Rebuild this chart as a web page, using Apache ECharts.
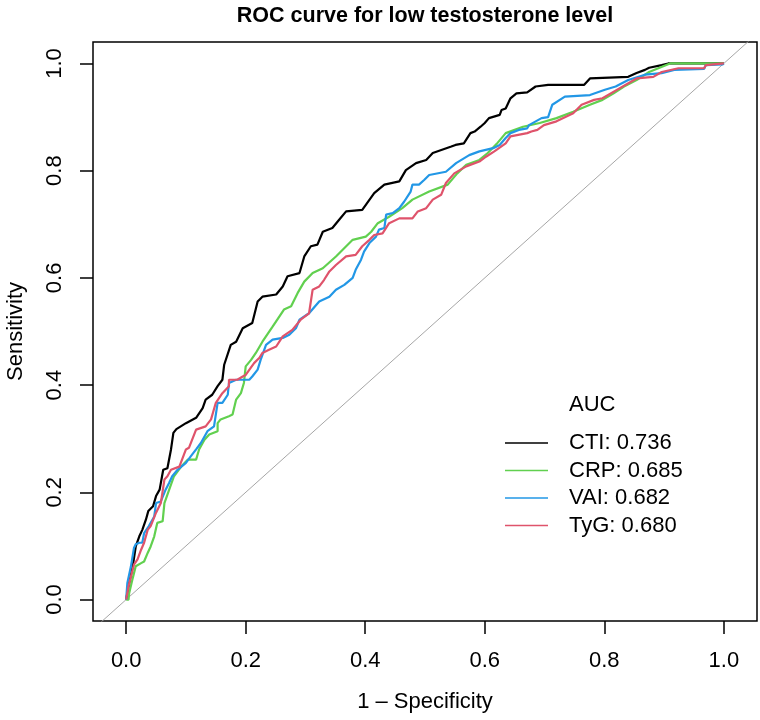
<!DOCTYPE html>
<html><head><meta charset="utf-8">
<script src="https://cdn.jsdelivr.net/npm/echarts@6/dist/echarts.min.js"></script>
<style>html,body{margin:0;padding:0;background:#fff}#c{width:760px;height:720px}</style>
</head><body><div id="c"></div>
<script>
const chartTitle = 'ROC curve for low testosterone level';
const xTitle = '1 \u2013 Specificity';
const yTitle = 'Sensitivity';
const seriesNames = ['CTI', 'CRP', 'VAI', 'TyG'];
const aucValues = ['0.736', '0.685', '0.682', '0.680'];
const seriesColors = ['#000000', '#61D04F', '#2297E6', '#DF536B'];
const tickValues = [0, 0.2, 0.4, 0.6, 0.8, 1.0];
const diagonal = [[-0.2, -0.2], [1.2, 1.2]];

const cti = [[0,0],[0.004,0.025],[0.011,0.062],[0.016,0.099],[0.022,0.118],[0.027,0.130],[0.033,0.149],[0.037,0.165],[0.045,0.174],[0.050,0.193],[0.056,0.205],[0.062,0.242],[0.069,0.245],[0.075,0.280],[0.079,0.311],[0.084,0.318],[0.100,0.329],[0.117,0.339],[0.128,0.357],[0.133,0.373],[0.144,0.382],[0.153,0.398],[0.161,0.410],[0.164,0.438],[0.175,0.475],[0.184,0.481],[0.195,0.506],[0.211,0.516],[0.220,0.556],[0.228,0.565],[0.251,0.569],[0.262,0.584],[0.270,0.603],[0.290,0.609],[0.298,0.640],[0.309,0.659],[0.320,0.662],[0.329,0.686],[0.345,0.693],[0.356,0.708],[0.368,0.724],[0.395,0.727],[0.415,0.758],[0.432,0.774],[0.457,0.780],[0.468,0.801],[0.485,0.814],[0.502,0.820],[0.513,0.833],[0.544,0.845],[0.551,0.848],[0.565,0.851],[0.576,0.870],[0.583,0.873],[0.593,0.882],[0.600,0.889],[0.607,0.898],[0.625,0.904],[0.628,0.913],[0.635,0.916],[0.643,0.935],[0.653,0.944],[0.671,0.946],[0.685,0.957],[0.706,0.960],[0.766,0.960],[0.776,0.972],[0.840,0.975],[0.854,0.982],[0.868,0.988],[0.875,0.992],[0.896,0.997],[0.907,1.0],[1,1]];

const crp = [[0,0],[0.004,0],[0.005,0.012],[0.011,0.040],[0.016,0.062],[0.025,0.068],[0.030,0.071],[0.036,0.087],[0.041,0.099],[0.047,0.118],[0.052,0.143],[0.061,0.146],[0.064,0.180],[0.072,0.205],[0.080,0.230],[0.092,0.248],[0.103,0.261],[0.117,0.261],[0.122,0.280],[0.131,0.298],[0.139,0.308],[0.153,0.314],[0.153,0.329],[0.158,0.336],[0.172,0.342],[0.178,0.345],[0.184,0.373],[0.192,0.385],[0.197,0.404],[0.200,0.435],[0.209,0.447],[0.217,0.460],[0.228,0.481],[0.245,0.509],[0.264,0.541],[0.276,0.547],[0.287,0.572],[0.298,0.593],[0.312,0.609],[0.329,0.618],[0.351,0.640],[0.379,0.671],[0.401,0.677],[0.410,0.686],[0.421,0.702],[0.440,0.714],[0.462,0.730],[0.479,0.746],[0.507,0.761],[0.538,0.774],[0.554,0.795],[0.569,0.811],[0.591,0.820],[0.605,0.833],[0.620,0.850],[0.635,0.870],[0.664,0.882],[0.692,0.889],[0.720,0.898],[0.748,0.910],[0.776,0.923],[0.797,0.932],[0.815,0.944],[0.833,0.957],[0.854,0.969],[0.875,0.984],[0.910,1.0],[1,1]];

const vai = [[0,0],[0.002,0.031],[0.008,0.062],[0.013,0.096],[0.016,0.103],[0.022,0.106],[0.027,0.106],[0.030,0.124],[0.038,0.137],[0.047,0.155],[0.050,0.180],[0.058,0.183],[0.066,0.205],[0.072,0.218],[0.077,0.230],[0.086,0.242],[0.100,0.255],[0.108,0.267],[0.117,0.280],[0.125,0.292],[0.136,0.314],[0.147,0.323],[0.153,0.367],[0.161,0.367],[0.170,0.382],[0.172,0.404],[0.184,0.410],[0.206,0.410],[0.211,0.416],[0.220,0.429],[0.225,0.447],[0.234,0.475],[0.245,0.485],[0.262,0.488],[0.273,0.494],[0.284,0.506],[0.290,0.522],[0.306,0.534],[0.323,0.556],[0.340,0.565],[0.351,0.578],[0.365,0.587],[0.379,0.600],[0.384,0.615],[0.393,0.634],[0.398,0.649],[0.407,0.665],[0.418,0.677],[0.423,0.690],[0.432,0.693],[0.435,0.718],[0.446,0.721],[0.457,0.730],[0.465,0.742],[0.476,0.761],[0.479,0.774],[0.490,0.774],[0.499,0.783],[0.507,0.792],[0.535,0.798],[0.552,0.814],[0.574,0.829],[0.591,0.836],[0.614,0.842],[0.625,0.848],[0.635,0.861],[0.643,0.870],[0.657,0.876],[0.671,0.879],[0.674,0.885],[0.695,0.898],[0.706,0.900],[0.713,0.923],[0.734,0.938],[0.776,0.941],[0.801,0.951],[0.819,0.957],[0.840,0.969],[0.868,0.979],[0.896,0.982],[0.917,0.988],[0.967,0.990],[0.970,0.997],[0.998,0.998],[1,1]];

const tyg = [[0,0],[0.004,0.025],[0.008,0.043],[0.013,0.065],[0.019,0.075],[0.025,0.093],[0.030,0.106],[0.036,0.130],[0.041,0.137],[0.050,0.162],[0.058,0.180],[0.064,0.224],[0.069,0.230],[0.075,0.242],[0.089,0.248],[0.100,0.280],[0.105,0.283],[0.117,0.317],[0.133,0.323],[0.142,0.336],[0.150,0.367],[0.161,0.385],[0.172,0.398],[0.172,0.410],[0.186,0.410],[0.195,0.416],[0.200,0.419],[0.214,0.441],[0.223,0.451],[0.228,0.460],[0.239,0.466],[0.251,0.472],[0.262,0.491],[0.278,0.503],[0.292,0.522],[0.306,0.534],[0.312,0.578],[0.323,0.584],[0.331,0.596],[0.340,0.612],[0.351,0.624],[0.368,0.640],[0.384,0.643],[0.395,0.659],[0.407,0.671],[0.415,0.680],[0.429,0.683],[0.440,0.702],[0.457,0.711],[0.479,0.711],[0.488,0.724],[0.502,0.730],[0.513,0.746],[0.527,0.755],[0.535,0.777],[0.549,0.795],[0.569,0.808],[0.591,0.817],[0.602,0.826],[0.616,0.836],[0.635,0.851],[0.643,0.864],[0.671,0.870],[0.678,0.873],[0.688,0.876],[0.699,0.885],[0.720,0.892],[0.748,0.907],[0.762,0.923],[0.783,0.932],[0.797,0.935],[0.826,0.954],[0.854,0.972],[0.882,0.975],[0.896,0.984],[0.924,0.991],[0.967,0.991],[0.970,0.997],[1,1]];

const curves = [cti, crp, vai, tyg];
const FONT = '"Liberation Sans", Arial, Helvetica, sans-serif';

const chart = echarts.init(document.getElementById('c'), null, { renderer: 'canvas' });
const series = [{
  type: 'line', name: 'diag', data: diagonal, symbol: 'none', silent: true, clip: true,
  lineStyle: { color: '#A6A6A6', width: 1 }, z: 1
}];
seriesNames.forEach((n, i) => {
  series.push({
    type: 'line', name: n, data: curves[i], symbol: 'none', clip: true,
    lineStyle: { color: seriesColors[i], width: 2.2 }, itemStyle: { color: seriesColors[i] }, z: 2 + i
  });
});

chart.setOption({
  animation: false,
  backgroundColor: '#ffffff',
  textStyle: { fontFamily: FONT, color: '#000' },
  title: [
    { text: chartTitle, left: 425, textAlign: 'center', top: 5, padding: 0,
      textStyle: { fontFamily: FONT, fontSize: 21.5, fontWeight: 'bold', color: '#000' } },
    { text: 'AUC', left: 569, top: 394, padding: 0,
      textStyle: { fontFamily: FONT, fontSize: 22, fontWeight: 'normal', color: '#000' } }
  ],
  grid: { left: 93, right: 3, top: 42, bottom: 99, show: true, borderColor: '#000', borderWidth: 1.5,
    containLabel: false, outerBoundsMode: 'none' },
  legend: {
    data: seriesNames.map(n => ({ name: n, icon: 'rect' })),
    orient: 'vertical', left: 505, top: 432, padding: 0,
    itemWidth: 43, itemHeight: 1.3, itemGap: 5.5,
    formatter: name => name + ': ' + aucValues[seriesNames.indexOf(name)],
    textStyle: { fontFamily: FONT, fontSize: 22, color: '#000', lineHeight: 22, padding: [0, 0, 0, 16] }
  },
  xAxis: {
    type: 'value', min: -0.0555, max: 1.0555,
    axisLine: { show: false, onZero: false }, splitLine: { show: false },
    axisTick: { show: true, customValues: tickValues, length: 13, lineStyle: { color: '#000', width: 1.5 } },
    axisLabel: { customValues: tickValues, formatter: v => v.toFixed(1), fontSize: 22, color: '#000', margin: 29, fontFamily: FONT },
    name: xTitle, nameLocation: 'middle', nameGap: 70,
    nameTextStyle: { fontSize: 22, color: '#000', fontFamily: FONT }
  },
  yAxis: {
    type: 'value', min: -0.04, max: 1.04,
    axisLine: { show: false, onZero: false }, splitLine: { show: false },
    axisTick: { show: true, customValues: tickValues, length: 13, lineStyle: { color: '#000', width: 1.5 } },
    axisLabel: { customValues: tickValues, formatter: v => v.toFixed(1), rotate: 90, fontSize: 22, color: '#000', margin: 27, fontFamily: FONT },
    name: yTitle, nameLocation: 'middle', nameRotate: 90, nameGap: 66,
    nameTextStyle: { fontSize: 22, color: '#000', fontFamily: FONT }
  },
  series: series
});
</script></body></html>
